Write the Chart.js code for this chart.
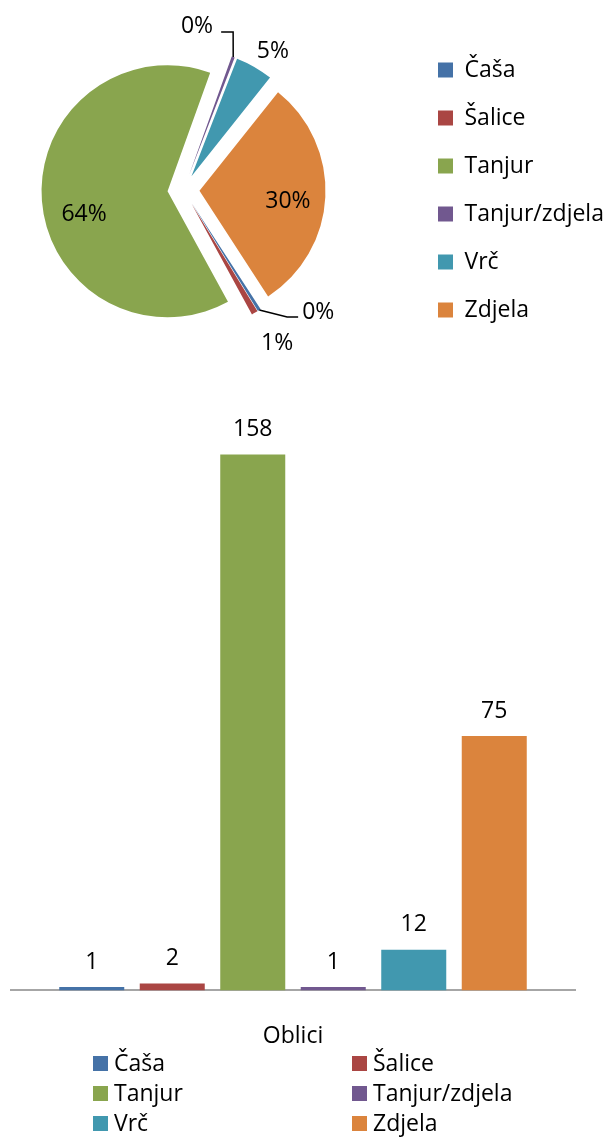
<!DOCTYPE html>
<html>
<head>
<meta charset="utf-8">
<script src="https://cdn.jsdelivr.net/npm/chart.js@4.4.1/dist/chart.umd.min.js"></script>
<style>
  html, body { margin: 0; padding: 0; background: #fff; width: 609px; height: 1138px; overflow: hidden; }
  #pie { position: absolute; left: 0; top: 0; }
  #bar { position: absolute; left: 0; top: 370px; }
</style>
</head>
<body>
<canvas id="pie" width="609" height="380"></canvas>
<canvas id="bar" width="609" height="768"></canvas>
<script>
// Vessel shapes and how many pieces of each
const categories = ['Čaša', 'Šalice', 'Tanjur', 'Tanjur/zdjela', 'Vrč', 'Zdjela'];
const counts = [1, 2, 158, 1, 12, 75];
const colors = ['#4572A7', '#AA4643', '#89A54E', '#71588F', '#4198AF', '#DB843D'];
const axisCategory = ['Oblici'];
const countAxisMax = 180;

// Percentage labels on the pie: distance as a share of the radius, angle nudge (degrees), leader line
const pieLabelRadius = [1.437, 1.417, 0.81, 1.314, 1.317, 0.833];
const pieLabelNudge = [-15.8, -1.5, -8.6, -15.8, 2.7, 2.7];
const pieLabelLeader = [true, false, false, true, false, false];

const FONT = '"Open Sans", "Noto Sans", sans-serif';
const TEXT_SIZE = 23;
const PIE_EXPLODE = 16;

// Whole-number shares that add up to 100 (largest remainder)
function wholePercents(values) {
  const total = values.reduce((a, b) => a + b, 0);
  const raw = values.map(v => v / total * 100);
  const out = raw.map(Math.floor);
  const missing = 100 - out.reduce((a, b) => a + b, 0);
  raw.map((r, i) => [r - out[i], i])
     .sort((a, b) => b[0] - a[0])
     .slice(0, missing)
     .forEach(([, i]) => { out[i] += 1; });
  return out;
}

// Every slice is pulled straight out along its middle angle, radius unchanged
const drawArc = Chart.ArcElement.prototype.draw;
Chart.ArcElement.prototype.draw = function (ctx) {
  const mid = (this.startAngle + this.endAngle) / 2;
  ctx.save();
  ctx.translate(Math.cos(mid) * PIE_EXPLODE, Math.sin(mid) * PIE_EXPLODE);
  drawArc.call(this, ctx);
  ctx.restore();
};

// Puts the pie centre and the legend column where they belong
const pieFrame = {
  id: 'pieFrame',
  afterLayout(chart, args, opts) {
    const lg = chart.legend;
    const w = lg.width;
    lg.left = opts.legendLeft;
    lg.right = lg.left + w;
    const ca = chart.chartArea;
    ca.right = opts.legendLeft;
    ca.left = 2 * opts.centreX - ca.right;
    ca.width = ca.right - ca.left;
  }
};

const pieLabels = {
  id: 'pieLabels',
  afterDatasetsDraw(chart) {
    const ctx = chart.ctx;
    const meta = chart.getDatasetMeta(0);
    const pct = wholePercents(chart.data.datasets[0].data);
    ctx.save();
    ctx.font = TEXT_SIZE + 'px ' + FONT;
    ctx.fillStyle = '#000';
    ctx.strokeStyle = '#000';
    ctx.lineWidth = 1.5;
    ctx.textAlign = 'center';
    ctx.textBaseline = 'alphabetic';
    meta.data.forEach((arc, i) => {
      const p = arc.getProps(['x', 'y', 'startAngle', 'endAngle', 'outerRadius'], true);
      const mid = (p.startAngle + p.endAngle) / 2;
      const a = mid + pieLabelNudge[i] * Math.PI / 180;
      const lx = p.x + Math.cos(a) * p.outerRadius * pieLabelRadius[i];
      const ly = p.y + Math.sin(a) * p.outerRadius * pieLabelRadius[i];
      const text = pct[i] + '%';
      ctx.fillText(text, lx, ly + 8);
      if (pieLabelLeader[i]) {
        const sx = p.x + Math.cos(mid) * (p.outerRadius + PIE_EXPLODE);
        const sy = p.y + Math.sin(mid) * (p.outerRadius + PIE_EXPLODE);
        const hw = ctx.measureText(text).width / 2;
        let ex, ey, bx;
        if (lx > sx) { ex = lx - hw - 4; ey = ly + 6; bx = ex - 11; }
        else { ex = lx + hw + 8; ey = ly + 7; bx = ex + 12; }
        ctx.beginPath();
        ctx.moveTo(sx, sy);
        ctx.lineTo(bx, ey);
        ctx.lineTo(ex, ey);
        ctx.stroke();
      }
    });
    ctx.restore();
  }
};

const barValueLabels = {
  id: 'barValueLabels',
  afterDatasetsDraw(chart) {
    const ctx = chart.ctx;
    ctx.save();
    ctx.font = TEXT_SIZE + 'px ' + FONT;
    ctx.fillStyle = '#000';
    ctx.textAlign = 'center';
    ctx.textBaseline = 'alphabetic';
    chart.data.datasets.forEach((ds, i) => {
      chart.getDatasetMeta(i).data.forEach((bar, j) => {
        ctx.fillText(String(ds.data[j]), bar.x, bar.y - 18.5);
      });
    });
    ctx.restore();
  }
};

// Two-column legend under the axis, filled row by row
const gridLegend = {
  id: 'gridLegend',
  afterDraw(chart, args, opts) {
    const ctx = chart.ctx;
    ctx.save();
    ctx.font = TEXT_SIZE + 'px ' + FONT;
    ctx.textAlign = 'left';
    ctx.textBaseline = 'middle';
    chart.data.datasets.forEach((ds, i) => {
      const col = i % opts.columns.length;
      const row = Math.floor(i / opts.columns.length);
      const x = opts.columns[col];
      const y = opts.top + row * opts.rowHeight;
      ctx.fillStyle = ds.backgroundColor;
      ctx.fillRect(x, y, opts.box, opts.box);
      ctx.fillStyle = '#000';
      ctx.fillText(ds.label, x + opts.box + 6, y + opts.box / 2 + 1);
    });
    ctx.restore();
  }
};

new Chart(document.getElementById('pie'), {
  type: 'pie',
  data: {
    labels: categories,
    datasets: [{
      data: counts,
      backgroundColor: colors,
      borderWidth: 0,
      radius: 126,
      hoverOffset: 0
    }]
  },
  options: {
    responsive: false,
    animation: false,
    devicePixelRatio: 1,
    rotation: 147,
    layout: { padding: 0 },
    plugins: {
      pieFrame: { centreX: 183.5, legendLeft: 413 },
      legend: {
        position: 'right',
        labels: {
          boxWidth: 15,
          boxHeight: 15,
          padding: 25,
          color: '#000',
          font: { family: FONT, size: TEXT_SIZE }
        }
      },
      tooltip: { enabled: false }
    }
  },
  plugins: [pieFrame, pieLabels]
});

new Chart(document.getElementById('bar'), {
  type: 'bar',
  data: {
    labels: axisCategory,
    datasets: categories.map((name, i) => ({
      label: name,
      data: [counts[i]],
      backgroundColor: colors[i],
      borderWidth: 0,
      categoryPercentage: 0.8564,
      barPercentage: 0.8075
    }))
  },
  options: {
    responsive: false,
    animation: false,
    devicePixelRatio: 1,
    layout: { padding: { left: 11, right: 34, top: 10, bottom: 56 } },
    plugins: {
      legend: { display: false },
      tooltip: { enabled: false },
      gridLegend: { columns: [93, 352], top: 686, rowHeight: 30, box: 15 }
    },
    scales: {
      x: {
        grid: { display: false, drawTicks: false },
        border: { display: true, color: '#a6a6a6', width: 2 },
        ticks: { color: '#000', padding: 32, font: { family: FONT, size: TEXT_SIZE } }
      },
      y: { display: false, min: 0, max: countAxisMax }
    }
  },
  plugins: [barValueLabels, gridLegend]
});
</script>
</body>
</html>
